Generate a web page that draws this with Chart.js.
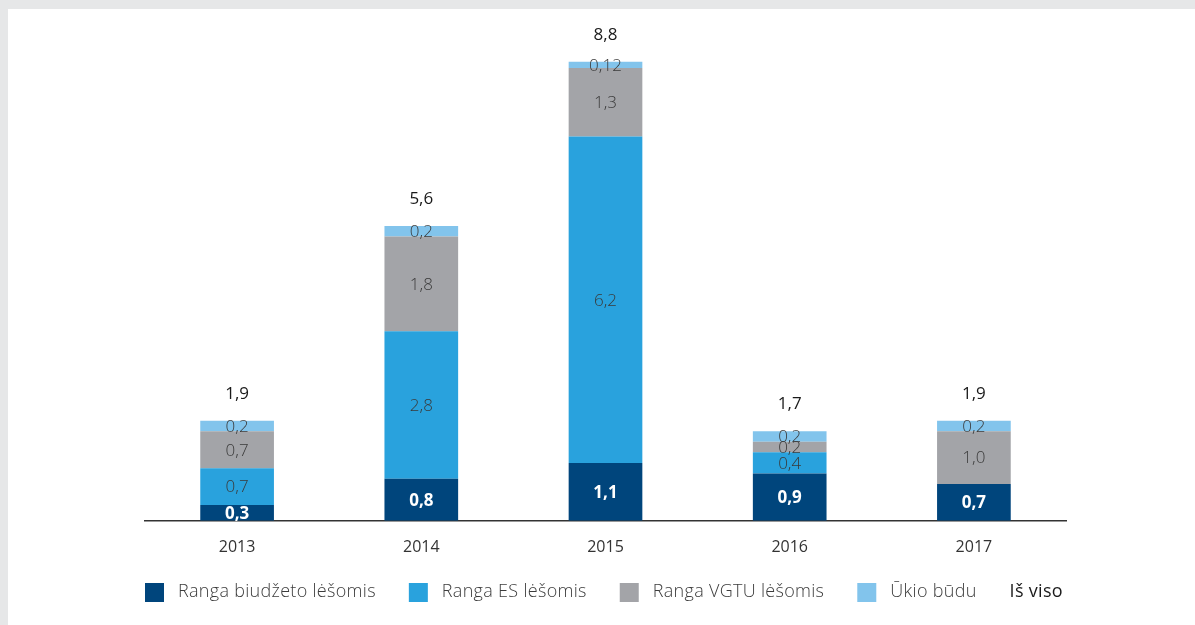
<!DOCTYPE html>
<html>
<head>
<meta charset="utf-8">
<script src="https://cdn.jsdelivr.net/npm/chart.js@4.4.0/dist/chart.umd.min.js"></script>
<style>
  html, body { margin: 0; padding: 0; }
  body { background: #e6e7e8; width: 1195px; height: 625px; position: relative; overflow: hidden; }
  .panel { position: absolute; left: 8px; top: 9px; right: 0; bottom: 0; background: #fff; }
  #chart { position: absolute; left: 0; top: 0; }
</style>
</head>
<body>
<div class="panel"></div>
<canvas id="chart" width="1195" height="625"></canvas>
<script>
const years = ['2013', '2014', '2015', '2016', '2017'];
const biudzetas = [0.3, 0.8, 1.1, 0.9, 0.7];
const esLesos = [0.7, 2.8, 6.2, 0.4, null];
const vgtuLesos = [0.7, 1.8, 1.3, 0.2, 1.0];
const ukioBudu = [0.2, 0.2, 0.12, 0.2, 0.2];
const isViso = [1.9, 5.6, 8.8, 1.7, 1.9];

const seriesNames = ['Ranga biudžeto lėšomis', 'Ranga ES lėšomis', 'Ranga VGTU lėšomis', 'Ūkio būdu'];
const colors = ['#00457c', '#29a2dd', '#a3a4a8', '#82c4ec'];
const totalLabel = 'Iš viso';

function fmt(v) {
  let s = (Math.round(v * 100) % 10 !== 0) ? v.toFixed(2) : v.toFixed(1);
  return s.replace('.', ',');
}

const FONT = "'Open Sans', 'Noto Sans', sans-serif";

// value labels inside segments + totals above the stacks
const labelPlugin = {
  id: 'labels',
  afterDatasetsDraw(chart) {
    const ctx = chart.ctx;
    ctx.save();
    ctx.textAlign = 'center';
    ctx.textBaseline = 'middle';
    chart.data.datasets.forEach((ds, di) => {
      const meta = chart.getDatasetMeta(di);
      meta.data.forEach((bar, i) => {
        const v = ds.data[i];
        if (v == null) return;
        const mid = (bar.y + bar.base) / 2;
        if (di === 0) {
          ctx.fillStyle = '#ffffff';
          ctx.font = 'bold 17px ' + FONT;
        } else {
          ctx.fillStyle = '#3a3a3a';
          ctx.font = '300 17px ' + FONT;
        }
        ctx.fillText(fmt(v), bar.x, mid + 1);
      });
    });
    // totals
    const x = chart.scales.x, y = chart.scales.y;
    ctx.fillStyle = '#1a1a1a';
    ctx.font = '17px ' + FONT;
    isViso.forEach((t, i) => {
      let top = 0;
      chart.data.datasets.forEach(ds => { top += ds.data[i] || 0; });
      ctx.fillText(fmt(t), x.getPixelForValue(i), y.getPixelForValue(top) - 27);
    });
    ctx.restore();
  }
};

// legend row under the chart
const legendPlugin = {
  id: 'customLegend',
  afterDraw(chart) {
    const ctx = chart.ctx;
    ctx.save();
    ctx.textBaseline = 'middle';
    ctx.letterSpacing = '0.3px';
    let lx = 145;
    const ly = 592;
    seriesNames.forEach((name, i) => {
      ctx.fillStyle = colors[i];
      ctx.fillRect(lx, ly - 9, 19, 19);
      lx += 19 + 14;
      ctx.fillStyle = '#3c3c3c';
      ctx.font = '300 18px ' + FONT;
      ctx.fillText(name, lx, ly);
      lx += ctx.measureText(name).width + 33;
    });
    ctx.fillStyle = '#1a1a1a';
    ctx.font = '18px ' + FONT;
    ctx.fillText(totalLabel, lx, ly);
    ctx.restore();
  }
};

new Chart(document.getElementById('chart'), {
  type: 'bar',
  data: {
    labels: years,
    datasets: seriesNames.map((name, i) => ({
      label: name,
      data: [biudzetas, esLesos, vgtuLesos, ukioBudu][i],
      backgroundColor: colors[i],
      borderWidth: 0,
      barPercentage: 0.4,
      categoryPercentage: 1
    }))
  },
  options: {
    responsive: false,
    animation: false,
    layout: { padding: { left: 145, right: 129, top: 47, bottom: 51 } },
    plugins: {
      legend: { display: false },
      tooltip: { enabled: false }
    },
    scales: {
      x: {
        stacked: true,
        grid: { display: false, drawTicks: false },
        border: { color: '#333333', width: 1.5 },
        ticks: { color: '#333333', font: { family: FONT, size: 16 }, padding: 17 }
      },
      y: {
        stacked: true,
        display: false,
        min: 0,
        max: 9
      }
    }
  },
  plugins: [labelPlugin, legendPlugin]
});
</script>
</body>
</html>
